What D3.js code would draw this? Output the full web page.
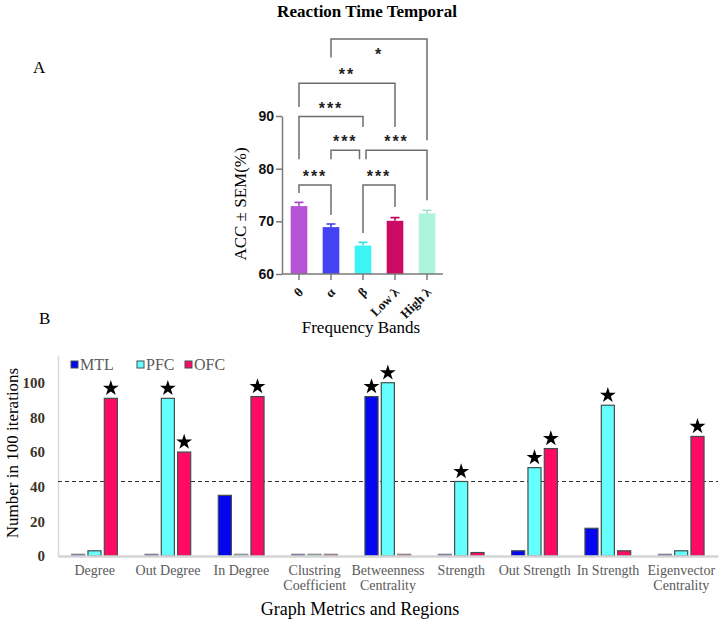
<!DOCTYPE html>
<html>
<head>
<meta charset="utf-8">
<script src="https://cdn.jsdelivr.net/npm/d3@7"></script>
<style>
  body { margin: 0; background: #fff; }
  svg { display: block; }
</style>
</head>
<body>
<svg width="720" height="625"></svg>
<script>
// ---- data: panel A ----
var bands = ["θ", "α", "β", "Low λ", "High λ"];
var accMean = [72.9, 68.9, 65.4, 70.1, 71.5];
var accSem = [0.7, 0.6, 0.6, 0.6, 0.6];
var bandColors = ["#b653d6", "#4343f3", "#3cf4f4", "#cc0a64", "#aef4dc"];
var accTicks = [60, 70, 80, 90];

// significance brackets: from band, to band, level, left leg end, right leg end, label
var brackets = [
  { a: 1, b: 4, top: 104.6, l: 101.1, r: 85.4, label: "*", below: true },
  { a: 0, b: 3, top: 96.2, l: 91.7, r: 87.9, label: "**" },
  { a: 0, b: 2, top: 89.9, l: 81.8, r: 87.9, label: "***" },
  { a: 1, b: 2, top: 83.5, l: 81.8, r: 81.8, label: "***", dr: -3.5 },
  { a: 2, b: 4, top: 83.5, l: 81.8, r: 74.0, label: "***", dl: 3 },
  { a: 0, b: 1, top: 76.9, l: 75.4, r: 71.2, label: "***" },
  { a: 2, b: 3, top: 76.9, l: 67.8, r: 72.7, label: "***" }
];

// ---- data: panel B ----
var metrics = [["Degree"], ["Out Degree"], ["In Degree"], ["Clustring", "Coefficient"],
  ["Betweenness", "Centrality"], ["Strength"], ["Out Strength"], ["In Strength"],
  ["Eigenvector", "Centrality"]];
var regions = ["MTL", "PFC", "OFC"];
var mtl = [1, 1, 35, 1, 92, 1, 3, 16, 1];
var pfc = [3, 91, 1, 1, 100, 43, 51, 87, 3];
var ofc = [91, 60, 92, 1, 1, 2, 62, 3, 69];
var regionColors = ["#0505f0", "#66ffff", "#ff0a64"];
var countTicks = [0, 20, 40, 60, 80, 100];
var threshold = 43;
// significant bars: [metric index, region index]
var starred = [[0, 2], [1, 1], [1, 2], [2, 2], [4, 0], [4, 1], [5, 1], [6, 1], [6, 2], [7, 1], [8, 2]];

var svg = d3.select("svg");
var serif = "'Liberation Serif', 'Times New Roman', serif";
var sans = "'Liberation Sans', Arial, sans-serif";

// titles and panel letters
svg.append("text").attr("x", 367).attr("y", 17).attr("text-anchor", "middle")
  .style("font-family", serif).style("font-weight", "bold").style("font-size", "17px")
  .text("Reaction Time Temporal");
svg.append("text").attr("x", 33).attr("y", 73).style("font-family", serif).style("font-size", "17px").text("A");
svg.append("text").attr("x", 39).attr("y", 324).style("font-family", serif).style("font-size", "17px").text("B");

// ================= panel A =================
var xA = d3.scaleBand().domain(bands).range([283, 443]).paddingInner(0.48).paddingOuter(0.24);
var yA = d3.scaleLinear().domain([60, 90]).range([274, 116]);
var axisGray = "#7a7a7a";

var gA = svg.append("g");

// y axis
var yAxisA = gA.append("g").attr("transform", "translate(282,0)")
  .call(d3.axisLeft(yA).tickValues(accTicks).tickSize(6).tickSizeOuter(0));
yAxisA.attr("font-family", null);
yAxisA.select(".domain").attr("stroke", axisGray).attr("stroke-width", 1.5);
yAxisA.selectAll(".tick line").attr("stroke", axisGray).attr("stroke-width", 1.5);
yAxisA.selectAll(".tick text").attr("x", -8).attr("fill", "#111")
  .style("font-family", sans).style("font-weight", "bold").style("font-size", "14px");

// bars
gA.selectAll("rect.acc").data(bands).enter().append("rect")
  .attr("class", "acc")
  .attr("x", function(d) { return xA(d); })
  .attr("width", xA.bandwidth())
  .attr("y", function(d, i) { return yA(accMean[i]); })
  .attr("height", function(d, i) { return yA(60) - yA(accMean[i]); })
  .attr("fill", function(d, i) { return bandColors[i]; });

// error bars
gA.selectAll("path.err").data(bands).enter().append("path")
  .attr("class", "err")
  .attr("d", function(d, i) {
    var cx = xA(d) + xA.bandwidth() / 2, top = yA(accMean[i] + accSem[i]), base = yA(accMean[i]);
    return "M" + cx + "," + base + "V" + top + "M" + (cx - 4.5) + "," + top + "H" + (cx + 4.5);
  })
  .attr("fill", "none")
  .attr("stroke", function(d, i) { return d3.color(bandColors[i]).darker(0.2); })
  .attr("stroke-width", 1.6);

// x axis
var xAxisA = gA.append("g").attr("transform", "translate(0,274)")
  .call(d3.axisBottom(xA).tickSize(6).tickSizeOuter(0));
xAxisA.attr("font-family", null);
xAxisA.select(".domain").attr("stroke", axisGray).attr("stroke-width", 1.5).attr("d", "M282,0H443");
xAxisA.selectAll(".tick line").attr("stroke", axisGray).attr("stroke-width", 1.5);
xAxisA.selectAll(".tick text")
  .attr("x", 0).attr("y", 0).attr("dy", 0)
  .attr("text-anchor", "end")
  .attr("transform", "translate(5,19) rotate(-45)")
  .attr("fill", "#111")
  .style("font-family", serif).style("font-weight", "bold").style("font-size", "13px");

// brackets
function cxA(i) { return xA(bands[i]) + xA.bandwidth() / 2; }
brackets.forEach(function(b) {
  var x1 = cxA(b.a) + (b.dl || 0), x2 = cxA(b.b) + (b.dr || 0);
  gA.append("path")
    .attr("d", "M" + x1 + "," + yA(b.l) + "V" + yA(b.top) + "H" + x2 + "V" + yA(b.r))
    .attr("fill", "none").attr("stroke", "#6e6e6e").attr("stroke-width", 1.5);
  var ty = b.below ? yA(b.top) + 21 : yA(b.top) - 3;
  gA.append("text")
    .attr("x", (x1 + x2) / 2).attr("y", ty)
    .attr("text-anchor", "middle")
    .style("font-family", sans).style("font-weight", "bold").style("font-size", "16px")
    .style("letter-spacing", "2px")
    .attr("fill", "#222")
    .text(b.label);
});

// axis titles A
svg.append("text").attr("transform", "translate(246,204) rotate(-90)")
  .attr("text-anchor", "middle").style("font-family", serif).style("font-size", "17px")
  .text("ACC ± SEM(%)");
svg.append("text").attr("x", 361).attr("y", 333).attr("text-anchor", "middle")
  .style("font-family", serif).style("font-size", "17px").text("Frequency Bands");

// ================= panel B =================
var metricNames = metrics.map(function(m) { return m.join(" "); });
var x0 = d3.scaleBand().domain(metricNames).range([58, 718]);
var x1 = d3.scaleBand().domain(regions).range([12, 61]).paddingInner(0.2).paddingOuter(0.1);
var yB = d3.scaleLinear().domain([0, 116]).range([556, 355]);
var series = [mtl, pfc, ofc];

var gB = svg.append("g");

// axes lines
var yAxisB = gB.append("g").attr("transform", "translate(58,0)")
  .call(d3.axisLeft(yB).tickValues(countTicks).tickSize(0).tickSizeOuter(0));
yAxisB.attr("font-family", null);
yAxisB.select(".domain").attr("stroke", "#d9d9d9").attr("stroke-width", 1.5);
yAxisB.selectAll(".tick text").attr("x", -13).attr("fill", "#3d3426")
  .style("font-family", serif).style("font-weight", "bold").style("font-size", "15px");

// threshold line
gB.append("line")
  .attr("x1", 58).attr("x2", 718)
  .attr("y1", yB(threshold)).attr("y2", yB(threshold))
  .attr("stroke", "#333").attr("stroke-width", 1.2).attr("stroke-dasharray", "4,3");

// bars
var groups = gB.selectAll("g.metric").data(metricNames).enter().append("g")
  .attr("class", "metric")
  .attr("transform", function(d) { return "translate(" + x0(d) + ",0)"; });

groups.selectAll("rect").data(function(d, mi) {
    return regions.map(function(r, ri) { return { region: r, ri: ri, value: series[ri][mi] }; });
  })
  .enter().append("rect")
  .attr("x", function(d) { return x1(d.region); })
  .attr("width", x1.bandwidth())
  .attr("y", function(d) { return yB(d.value); })
  .attr("height", function(d) { return yB(0) - yB(d.value); })
  .attr("fill", function(d) { return regionColors[d.ri]; })
  .attr("stroke", function(d) { return d.value <= 1 ? "#8a8a8a" : "#3f4f4f"; })
  .attr("stroke-width", 1.2);

// x axis
var xAxisB = gB.append("g").attr("transform", "translate(0,556)")
  .call(d3.axisBottom(x0).tickSize(0).tickSizeOuter(0).tickFormat(""));
xAxisB.select(".domain").attr("stroke", "#d4d4d4").attr("stroke-width", 2.5);
xAxisB.selectAll(".tick").each(function(d, i) {
  var t = d3.select(this).append("text")
    .attr("text-anchor", "middle")
    .attr("fill", "#5a5a5a")
    .style("font-family", serif).style("font-size", "14px");
  metrics[i].forEach(function(line, li) {
    t.append("tspan").attr("x", 0).attr("y", 19 + li * 15).text(line);
  });
});

// stars
var star = d3.symbol().type(d3.symbolStar).size(78);
gB.selectAll("path.star").data(starred).enter().append("path")
  .attr("class", "star")
  .attr("d", star)
  .attr("fill", "#000")
  .attr("transform", function(d) {
    var cx = x0(metricNames[d[0]]) + x1(regions[d[1]]) + x1.bandwidth() / 2;
    var cy = yB(series[d[1]][d[0]]) - 10;
    return "translate(" + cx + "," + cy + ")";
  });

// legend
var legend = gB.selectAll("g.legend").data(regions).enter().append("g")
  .attr("class", "legend")
  .attr("transform", function(d, i) { return "translate(" + [71, 137, 185][i] + ",361)"; });
legend.append("rect").attr("width", 7).attr("height", 7)
  .attr("fill", function(d, i) { return regionColors[i]; })
  .attr("stroke", "#3f4f4f").attr("stroke-width", 1);
legend.append("text").attr("x", 9).attr("y", 9)
  .attr("fill", "#5a5a5a")
  .style("font-family", serif).style("font-size", "16px")
  .text(function(d) { return d; });

// axis titles B
svg.append("text").attr("transform", "translate(18,453) rotate(-90)")
  .attr("text-anchor", "middle").style("font-family", serif).style("font-size", "17px")
  .text("Number in 100 iterations");
svg.append("text").attr("x", 360).attr("y", 615).attr("text-anchor", "middle")
  .style("font-family", serif).style("font-size", "18px").text("Graph Metrics and Regions");
</script>
</body>
</html>
